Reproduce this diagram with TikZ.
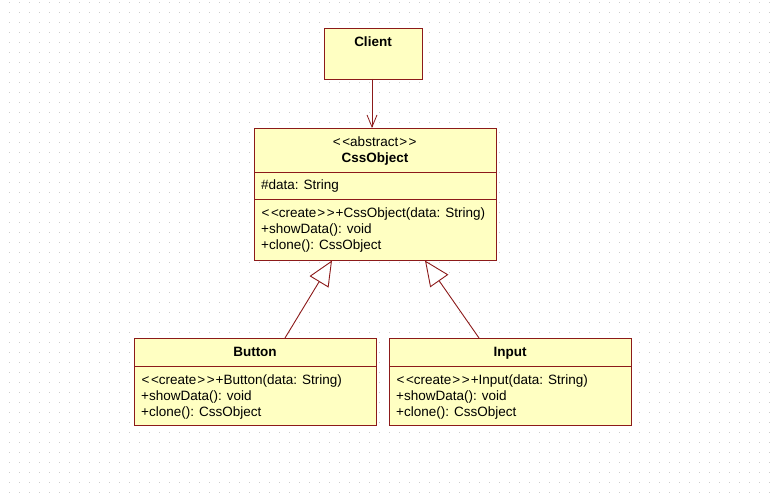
\documentclass[tikz,border=0pt]{standalone}
\usepackage{fontspec}
\setmainfont{Liberation Sans}
\usetikzlibrary{arrows.meta}
\definecolor{umlfill}{RGB}{255,255,194}
\definecolor{umlline}{RGB}{140,26,26}
\definecolor{dotgray}{RGB}{205,205,205}
\newcommand{\stereo}[1]{\kern0.5pt<\kern1.5pt<#1\kern1pt>\kern1.5pt>\kern1pt}
\tikzset{
  classbox/.style={draw=umlline, fill=umlfill, line width=0.9pt, anchor=north west, inner sep=0pt},
  sepline/.style={draw=umlline, line width=0.9pt},
  titletext/.style={font=\fontsize{13.5}{16}\selectfont\bfseries, inner sep=0pt, anchor=base},
  stereotext/.style={font=\fontsize{13.5}{16}\selectfont, inner sep=0pt, anchor=base},
  membertext/.style={font=\fontsize{13.5}{16}\selectfont, inner sep=0pt, anchor=base west},
  assoc/.style={draw=umlline, line width=0.9pt, -{Straight Barb[length=12pt,width=10pt,line width=0.8pt]}},
  genline/.style={draw=umlline, line width=0.9pt, -{Triangle[open, length=25pt, width=22pt, line width=0.9pt, fill=white]}},
}
\begin{document}
\begin{tikzpicture}[x=1pt,y=-1pt]
\useasboundingbox (0,0) rectangle (772,502);
\fill[white] (0,0) rectangle (772,502);
% dot grid
\foreach \i in {0,...,76} {
  \foreach \j in {0,...,49} {
    \fill[dotgray] (9+10*\i-0.5,3+10*\j-0.5) rectangle ++(1,1);
  }
}
% Client
\node[classbox, minimum width=98pt, minimum height=51pt] (client) at (324,28) {};
\node[titletext] (clientT) at (373,46.5) {Client};
% CssObject
\node[classbox, minimum width=242pt, minimum height=132pt] (css) at (254,128) {};
\node[stereotext] (cssS) at (375,146.5) {\stereo{abstract}};
\node[titletext] (cssT) at (375,162.5) {CssObject};
\coordinate (cssd1L) at (254,172);
\coordinate (cssd1R) at (496,172);
\coordinate (cssd2L) at (254,199);
\coordinate (cssd2R) at (496,199);
\draw[sepline] (cssd1L) -- (cssd1R);
\draw[sepline] (cssd2L) -- (cssd2R);
\node[membertext] (cssA) at (261,190) {\#data: String};
\node[membertext] (cssM1) at (261,217.5) {\stereo{create}+CssObject(data: String)};
\node[membertext] (cssM2) at (261,233.5) {+showData(): void};
\node[membertext] (cssM3) at (261,249.5) {+clone(): CssObject};
% Button
\node[classbox, minimum width=242pt, minimum height=87pt] (button) at (134,338) {};
\node[titletext] (buttonT) at (255,356.5) {Button};
\coordinate (btnL) at (134,366);
\coordinate (btnR) at (376,366);
\draw[sepline] (btnL) -- (btnR);
\node[membertext] (buttonM1) at (141,384.5) {\stereo{create}+Button(data: String)};
\node[membertext] (buttonM2) at (141,400.5) {+showData(): void};
\node[membertext] (buttonM3) at (141,416.5) {+clone(): CssObject};
% Input
\node[classbox, minimum width=242pt, minimum height=87pt] (input) at (389,338) {};
\node[titletext] (inputT) at (510,356.5) {Input};
\coordinate (inL) at (389,366);
\coordinate (inR) at (631,366);
\draw[sepline] (inL) -- (inR);
\node[membertext] (inputM1) at (396,384.5) {\stereo{create}+Input(data: String)};
\node[membertext] (inputM2) at (396,400.5) {+showData(): void};
\node[membertext] (inputM3) at (396,416.5) {+clone(): CssObject};
% connectors
\coordinate (cliB) at (372,79);
\coordinate (cssTop) at (372,128);
\draw[assoc] (cliB) -- (cssTop);
\coordinate (btnTop) at (285,338);
\coordinate (cssB1) at (332,260.5);
\draw[genline] (btnTop) -- (cssB1);
\coordinate (inTop) at (479,338);
\coordinate (cssB2) at (425,260.5);
\draw[genline] (inTop) -- (cssB2);
\end{tikzpicture}
\end{document}
